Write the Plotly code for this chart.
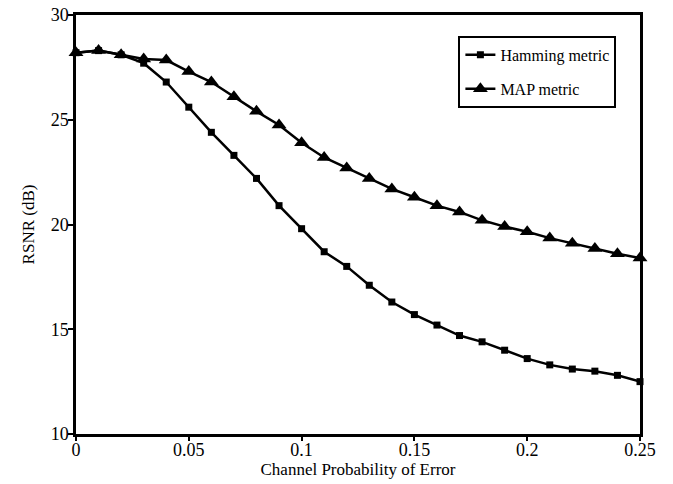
import plotly.graph_objects as go

# Data
p_err = [0.00, 0.01, 0.02, 0.03, 0.04, 0.05, 0.06, 0.07, 0.08, 0.09,
         0.10, 0.11, 0.12, 0.13, 0.14, 0.15, 0.16, 0.17, 0.18, 0.19,
         0.20, 0.21, 0.22, 0.23, 0.24, 0.25]
hamming = [28.2, 28.3, 28.1, 27.7, 26.8, 25.6, 24.4, 23.3, 22.2, 20.9,
           19.8, 18.7, 18.0, 17.1, 16.3, 15.7, 15.2, 14.7, 14.4, 14.0,
           13.6, 13.3, 13.1, 13.0, 12.8, 12.5]
map_metric = [28.2, 28.3, 28.1, 27.9, 27.85, 27.3, 26.8, 26.1, 25.4, 24.75,
              23.9, 23.2, 22.7, 22.2, 21.7, 21.3, 20.9, 20.6, 20.2, 19.9,
              19.65, 19.35, 19.1, 18.85, 18.6, 18.4]
x_ticks = [0, 0.05, 0.1, 0.15, 0.2, 0.25]
x_ticktext = ["0", "0.05", "0.1", "0.15", "0.2", "0.25"]
y_ticks = [10, 15, 20, 25, 30]

FONT = "Liberation Serif"

fig = go.Figure()
fig.add_trace(go.Scatter(
    x=p_err, y=hamming, name="Hamming metric", mode="lines+markers",
    legendgroup="h",
    line=dict(color="black", width=2.5),
    marker=dict(symbol="square", size=7, color="black"),
    cliponaxis=False,
))
fig.add_trace(go.Scatter(
    x=p_err, y=map_metric, name="MAP metric", mode="lines+markers",
    legendgroup="m",
    line=dict(color="black", width=2.5),
    marker=dict(symbol="triangle-up", size=13, color="black"),
    cliponaxis=False,
))

fig.update_layout(
    width=673, height=484,
    margin=dict(l=76, r=33, t=15, b=50, autoexpand=False),
    paper_bgcolor="white", plot_bgcolor="white",
    font=dict(family=FONT, color="black", size=16),
    showlegend=True,
    legend=dict(
        x=0.678, y=0.95, xanchor="left", yanchor="top",
        bordercolor="black", borderwidth=2, bgcolor="white",
        font=dict(family=FONT, size=16, color="black"),
        traceorder="grouped", tracegroupgap=10, itemwidth=30,
    ),
    xaxis=dict(
        range=[0, 0.25], tickvals=x_ticks, ticktext=x_ticktext,
        showgrid=False, zeroline=False, automargin=False,
        showline=True, linecolor="black", linewidth=2.5, mirror=True,
        ticks="outside", ticklen=4, tickwidth=2, tickcolor="black",
        ticklabelstandoff=-6,
        tickfont=dict(family=FONT, size=18),
        title=dict(text="Channel Probability of Error", standoff=0,
                   font=dict(family=FONT, size=17)),
    ),
    yaxis=dict(
        range=[10, 30], tickvals=y_ticks,
        showgrid=False, zeroline=False, automargin=False,
        showline=True, linecolor="black", linewidth=2.5, mirror=True,
        ticks="outside", ticklen=5, tickwidth=2, tickcolor="black",
        ticklabelstandoff=-4,
        tickfont=dict(family=FONT, size=18),
        title=dict(text="RSNR (dB)", standoff=12,
                   font=dict(family=FONT, size=17)),
    ),
)

fig.write_html("out.html",
               config={"displayModeBar": False},
               post_script="document.body.style.margin='0';")
